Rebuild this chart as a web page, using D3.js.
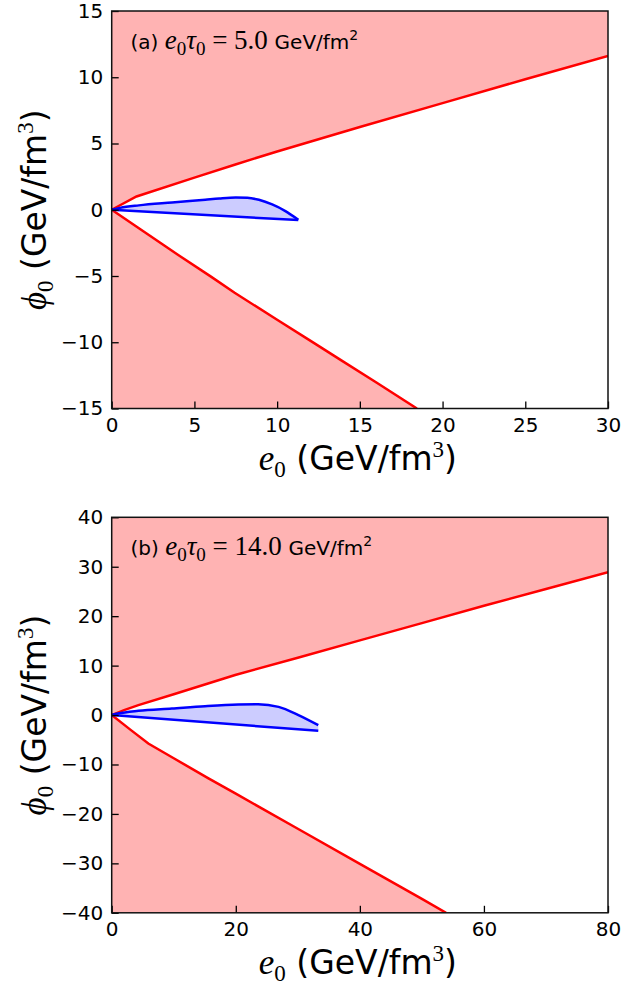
<!DOCTYPE html>
<html><head><meta charset="utf-8">
<script src="https://cdn.jsdelivr.net/npm/d3@7"></script>
<style>body{margin:0;background:#fff} svg{display:block}</style>
</head><body>
<svg id="c" width="642" height="985"></svg>
<script>
// ---------- Panel (a) data ----------
const aXTicks = [0, 5, 10, 15, 20, 25, 30];
const aYTicks = [-15, -10, -5, 0, 5, 10, 15];
const aUpperE   = [0, 1.5, 5, 7.43, 10, 15, 20, 25, 30];
const aUpperPhi = [0, 1.0, 2.42, 3.4, 4.4, 6.25, 8.05, 9.85, 11.6];
const aLowerE   = [0, 2, 4, 6, 7.43, 10, 12, 14, 16, 18.45];
const aLowerPhi = [0, -1.7, -3.4, -5.05, -6.27, -8.3, -9.88, -11.46, -13.04, -15];
const aBlueUpE   = [0, 0.5, 1.64, 3.65, 5.66, 6.5, 7.5, 8.2, 8.9, 9.7, 10.5, 11.28];
const aBlueUpPhi = [0, 0.14, 0.33, 0.55, 0.76, 0.85, 0.92, 0.9, 0.75, 0.4, -0.1, -0.75];
const aBlueLowE   = [0, 11.28];
const aBlueLowPhi = [0, -0.78];

// ---------- Panel (b) data ----------
const bXTicks = [0, 20, 40, 60, 80];
const bYTicks = [-40, -30, -20, -10, 0, 10, 20, 30, 40];
const bUpperE   = [0, 2, 4.3, 10, 19.9, 30, 40, 50, 60, 70, 80];
const bUpperPhi = [0, 1.0, 2.0, 4.2, 8.1, 11.6, 15.1, 18.6, 22.1, 25.5, 28.9];
const bLowerE   = [0, 3, 5.9, 10, 15.6, 20, 30, 40, 50, 53.9];
const bLowerPhi = [0, -2.95, -5.75, -8.74, -12.8, -15.9, -23.0, -30.1, -37.2, -40];
const bBlueUpE   = [0, 1, 4.3, 9.7, 15.05, 20.4, 23.6, 26.9, 30.1, 33.3];
const bBlueUpPhi = [0, 0.3, 0.86, 1.33, 1.8, 2.14, 2.2, 1.66, 0, -2.04];
const bBlueLowE   = [0, 33.3];
const bBlueLowPhi = [0, -3.2];

const panels = [
  {label: "(a) ", val: "5.0", xDom: [0, 30], yDom: [-15, 15], xTicks: aXTicks, yTicks: aYTicks,
   up: [aUpperE, aUpperPhi], low: [aLowerE, aLowerPhi], bu: [aBlueUpE, aBlueUpPhi], bl: [aBlueLowE, aBlueLowPhi],
   box: {l: 111.7, r: 608, t: 11, b: 408.5}},
  {label: "(b) ", val: "14.0", xDom: [0, 80], yDom: [-40, 40], xTicks: bXTicks, yTicks: bYTicks,
   up: [bUpperE, bUpperPhi], low: [bLowerE, bLowerPhi], bu: [bBlueUpE, bBlueUpPhi], bl: [bBlueLowE, bBlueLowPhi],
   box: {l: 111.7, r: 608, t: 517.3, b: 912.8}}
];

const svg = d3.select("#c");
const SANS = "DejaVu Sans, sans-serif";
const SERIF = "Liberation Serif, Times New Roman, serif";
const zip = (xs, ys) => xs.map((x, i) => [x, ys[i]]);

function richText(g, x, y, parts, attrs) {
  const t = g.append("text").attr("x", x).attr("y", y);
  if (attrs) Object.entries(attrs).forEach(([k, v]) => t.attr(k, v));
  let cur = 0;
  parts.forEach(p => {
    const sh = p.shift || 0;
    t.append("tspan").text(p.t)
      .attr("dy", sh - cur)
      .style("font-family", p.f || SANS)
      .style("font-size", p.s + "px")
      .style("font-style", p.i ? "italic" : "normal");
    cur = sh;
  });
  return t;
}

panels.forEach((P, k) => {
  const B = P.box;
  const x = d3.scaleLinear().domain(P.xDom).range([B.l, B.r]);
  const y = d3.scaleLinear().domain(P.yDom).range([B.b, B.t]);
  const g = svg.append("g");
  const cid = "clip" + k;
  g.append("clipPath").attr("id", cid).append("rect")
    .attr("x", B.l).attr("y", B.t).attr("width", B.r - B.l).attr("height", B.b - B.t);
  const pg = g.append("g").attr("clip-path", `url(#${cid})`);

  const up = zip(P.up[0], P.up[1]);
  const low = zip(P.low[0], P.low[1]);
  const bu = zip(P.bu[0], P.bu[1]);
  const bl = zip(P.bl[0], P.bl[1]);

  pg.append("path").datum(up)
    .attr("d", d3.area().x(d => x(d[0])).y0(y(P.yDom[1])).y1(d => y(d[1])))
    .attr("fill", "#ffb3b3");
  pg.append("path").datum(low)
    .attr("d", d3.area().x(d => x(d[0])).y0(y(P.yDom[0])).y1(d => y(d[1])))
    .attr("fill", "#ffb3b3");

  const curveUp = d3.line().x(d => x(d[0])).y(d => y(d[1])).curve(d3.curveMonotoneX);
  const lineLin = d3.line().x(d => x(d[0])).y(d => y(d[1]));
  const upPath = curveUp(bu);
  const lowRev = bl.slice().reverse();
  const poly = upPath + lowRev.map(d => "L" + x(d[0]) + "," + y(d[1])).join("") + "Z";
  pg.append("path").attr("d", poly).attr("fill", "#ccccff");

  pg.append("path").datum(up).attr("d", lineLin).attr("fill", "none").attr("stroke", "#ff0000").attr("stroke-width", 2.5);
  pg.append("path").datum(low).attr("d", lineLin).attr("fill", "none").attr("stroke", "#ff0000").attr("stroke-width", 2.5);
  pg.append("path").attr("d", upPath).attr("fill", "none").attr("stroke", "#0000ff").attr("stroke-width", 2.5);
  pg.append("path").datum(bl).attr("d", lineLin).attr("fill", "none").attr("stroke", "#0000ff").attr("stroke-width", 2.5);

  const xa = g.append("g").attr("transform", `translate(0,${B.b})`)
    .call(d3.axisBottom(x).tickValues(P.xTicks).tickSizeInner(-7).tickSizeOuter(0).tickPadding(9).tickFormat(d3.format("d")));
  const ya = g.append("g").attr("transform", `translate(${B.l},0)`)
    .call(d3.axisLeft(y).tickValues(P.yTicks).tickSizeInner(-7).tickSizeOuter(0).tickPadding(8.5).tickFormat(d3.format("d")));
  [xa, ya].forEach(a => {
    a.select(".domain").remove();
    a.selectAll("line").attr("stroke", "#000").attr("stroke-width", 1.3);
    a.selectAll("text").style("font-family", SANS).style("font-size", "20px").attr("fill", "#000");
  });

  g.append("rect").attr("x", B.l).attr("y", B.t).attr("width", B.r - B.l).attr("height", B.b - B.t)
    .attr("fill", "none").attr("stroke", "#111").attr("stroke-width", 1.5);

  richText(g, 130.5, B.t + 38, [
    {t: P.label, s: 20},
    {t: "e", f: SERIF, s: 27, i: true},
    {t: "0", f: SERIF, s: 19, shift: 6},
    {t: "τ", f: SERIF, s: 27, i: true, shift: 0},
    {t: "0", f: SERIF, s: 19, shift: 6},
    {t: " = " + P.val + " ", f: SERIF, s: 27, shift: 0},
    {t: "GeV/fm", s: 20},
    {t: "2", s: 14, shift: -9}
  ]);

  const cx = (B.l + B.r) / 2;
  richText(g, cx - 2, B.b + 61, [
    {t: "e", f: SERIF, s: 35, i: true},
    {t: "0", f: SERIF, s: 23, shift: 7},
    {t: " (GeV/fm", s: 33, shift: 0},
    {t: "3", f: SERIF, s: 23, shift: -13},
    {t: ")", s: 33, shift: 0}
  ], {"text-anchor": "middle"});

  const cy = (B.t + B.b) / 2;
  richText(g, 0, 0, [
    {t: "ϕ", f: SERIF, s: 35, i: true},
    {t: "0", f: SERIF, s: 23, shift: 7},
    {t: " (GeV/fm", s: 33, shift: 0},
    {t: "3", f: SERIF, s: 23, shift: -13},
    {t: ")", s: 33, shift: 0}
  ], {"text-anchor": "middle", "transform": `translate(46,${cy}) rotate(-90)`});
});
</script></body></html>
